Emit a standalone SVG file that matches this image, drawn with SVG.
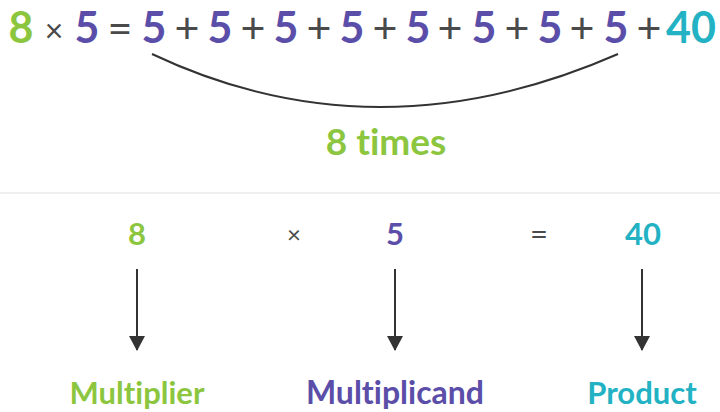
<svg xmlns="http://www.w3.org/2000/svg" width="720" height="412" viewBox="0 0 720 412">
<style>
text{font-family:Lato,"Open Sans","Liberation Sans",sans-serif;font-weight:700;text-anchor:middle;font-variant-ligatures:none}
.g{fill:#8cc63f}.p{fill:#5b4ea8}.t{fill:#22b2c3}.o{fill:#4a4a4a;font-weight:400}
.big{font-size:43px}.mid{font-size:37px}.sm{font-size:31px}
.conn{stroke:#333;stroke-width:2;fill:none}
</style>
<defs>
<marker id="ah" viewBox="0 0 15 16" refX="14" refY="8" markerWidth="15" markerHeight="16" markerUnits="userSpaceOnUse" orient="auto">
<path d="M0,0 L15,8 L0,16 Z" fill="#333"/>
</marker>
</defs>
<rect width="720" height="412" fill="#fff"/>
<g id="equation">
<text x="21" y="43" class="g big">8</text>
<text x="54" y="42" class="o" font-size="32">×</text>
<text x="87" y="43" class="p big">5</text>
<text x="120" y="43" class="o big">=</text>
<text x="154" y="43" class="p big">5</text>
<text x="187" y="43" class="o big">+</text>
<text x="220" y="43" class="p big">5</text>
<text x="253" y="43" class="o big">+</text>
<text x="286" y="43" class="p big">5</text>
<text x="319" y="43" class="o big">+</text>
<text x="352" y="43" class="p big">5</text>
<text x="385" y="43" class="o big">+</text>
<text x="418" y="43" class="p big">5</text>
<text x="450" y="43" class="o big">+</text>
<text x="484" y="43" class="p big">5</text>
<text x="517" y="43" class="o big">+</text>
<text x="550" y="43" class="p big">5</text>
<text x="582" y="43" class="o big">+</text>
<text x="616" y="43" class="p big">5</text>
<text x="649" y="43" class="o big">+</text>
<text x="691" y="43" class="t big">40</text>
</g>
<g id="times-label">
<text x="386" y="155" class="g mid">8 times</text>
</g>
<line x1="0" y1="193" x2="720" y2="193" stroke="#efefef" stroke-width="2"/>
<g id="multiplier">
<text x="137" y="245" class="g sm">8</text>
<text x="137" y="404" class="g sm">Multiplier</text>
</g>
<g id="times-op"><text x="294" y="243" class="o" font-size="24">×</text></g>
<g id="multiplicand">
<text x="395" y="245" class="p sm">5</text>
<text x="395" y="404" class="p" font-size="32">Multiplicand</text>
</g>
<g id="equals-op"><text x="539" y="245" class="o sm">=</text></g>
<g id="product">
<text x="643" y="245" class="t sm">40</text>
<text x="642" y="404" class="t sm">Product</text>
</g>
<g id="connectors">
<path class="conn" d="M152,54 Q376,160 618,54"/>
<line class="conn" x1="137" y1="269" x2="137" y2="350" marker-end="url(#ah)"/>
<line class="conn" x1="395" y1="269" x2="395" y2="350" marker-end="url(#ah)"/>
<line class="conn" x1="642" y1="269" x2="642" y2="350" marker-end="url(#ah)"/>
</g>
</svg>
